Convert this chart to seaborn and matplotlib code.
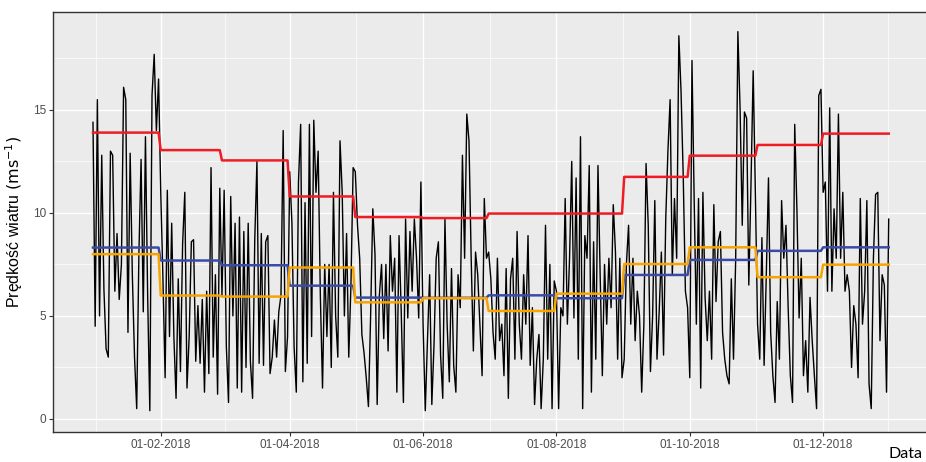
import numpy as np
import pandas as pd
import matplotlib
matplotlib.use("Agg")
import matplotlib.pyplot as plt
import matplotlib.dates as mdates
import seaborn as sns

# ---- data (daily wind speed 2018) ----
jan = [14.4, 4.5, 15.5, 5.0, 12.8, 6.3, 3.4, 3.0, 13.0, 12.8, 6.2, 9.0, 5.8, 7.5, 16.1, 15.5,
       4.2, 12.9, 7.0, 3.0, 0.5, 8.0, 12.6, 5.2, 13.7, 6.0, 0.4, 15.7, 17.7, 14.0, 16.5]
feb = [11.0, 6.8, 2.0, 11.1, 4.0, 9.5, 4.0, 1.0, 6.8, 2.3, 8.5, 11.0, 1.5, 4.0, 8.6, 8.7,
       2.8, 5.5, 2.7, 5.8, 1.3, 6.2, 2.2, 12.2, 3.0, 7.0, 1.2, 11.2]
mar = [6.0, 11.1, 3.5, 0.8, 10.8, 5.0, 9.5, 1.5, 9.8, 1.3, 9.1, 2.5, 9.5, 2.8, 1.0, 8.7,
       12.5, 2.7, 9.0, 2.6, 8.6, 8.9, 2.2, 3.0, 4.8, 3.0, 5.2, 6.0, 14.0, 2.3, 4.0]
apr = [12.0, 9.5, 3.5, 1.3, 11.5, 14.3, 1.8, 10.5, 2.7, 14.3, 4.0, 14.5, 11.0, 13.0, 6.0,
       1.5, 7.5, 4.0, 7.5, 2.5, 11.0, 5.0, 3.0, 13.5, 11.0, 5.0, 9.0, 3.0, 6.5, 12.2]
may = [12.0, 9.4, 7.8, 4.1, 3.2, 2.0, 0.6, 5.0, 10.2, 8.0, 0.7, 6.0, 7.5, 3.9, 7.5, 3.3,
       8.9, 6.2, 7.8, 1.3, 8.9, 5.2, 0.8, 9.7, 4.9, 9.1, 6.2, 9.7, 7.8, 4.9, 11.5]
jun = [4.6, 0.4, 3.8, 7.0, 0.7, 3.6, 7.8, 8.6, 3.1, 1.0, 9.7, 4.6, 1.8, 7.3, 2.6, 1.3,
       7.0, 5.4, 12.8, 7.8, 14.8, 13.5, 7.8, 3.3, 8.1, 7.0, 4.6, 2.1, 10.7, 7.8]
jul = [8.1, 6.8, 4.2, 2.9, 7.8, 3.8, 4.6, 2.1, 7.3, 1.0, 6.8, 7.8, 2.9, 9.1, 4.6, 2.9,
       7.0, 4.6, 8.9, 2.6, 5.4, 0.7, 2.9, 4.1, 0.5, 2.9, 9.4, 2.9, 7.5, 0.5, 6.7]
aug = [6.2, 0.5, 5.4, 5.0, 10.7, 4.6, 7.8, 12.5, 4.9, 11.7, 2.9, 13.7, 0.5, 8.9, 7.8, 12.3,
       1.3, 8.6, 2.9, 12.3, 7.0, 2.1, 7.5, 4.6, 7.8, 5.4, 10.4, 8.1, 2.9, 7.8, 2.0]
sep = [2.9, 7.5, 9.4, 4.6, 7.8, 3.8, 6.2, 5.0, 1.3, 4.6, 12.4, 9.4, 2.3, 5.0, 10.6, 2.9,
       5.2, 8.1, 3.1, 9.7, 13.0, 15.5, 7.0, 10.7, 7.8, 18.6, 15.9, 11.8, 6.2, 5.4]
oct_ = [2.0, 17.4, 10.7, 4.6, 10.7, 1.5, 11.0, 5.9, 3.8, 6.2, 2.9, 10.4, 5.7, 8.6, 9.1, 4.2,
        2.9, 2.1, 1.7, 6.8, 2.9, 7.8, 18.8, 15.1, 9.4, 14.9, 14.6, 6.5, 11.4, 16.9, 11.0]
nov = [4.6, 2.9, 8.8, 2.6, 7.0, 11.7, 4.2, 2.1, 0.8, 5.7, 2.9, 10.6, 7.8, 9.4, 5.4, 2.1,
       0.8, 14.3, 10.2, 4.9, 7.8, 2.1, 3.8, 1.3, 5.9, 3.8, 2.1, 0.5, 15.7, 16.0]
dec = [11.0, 11.5, 6.2, 15.1, 6.2, 10.2, 7.8, 14.8, 7.8, 11.0, 6.2, 7.0, 6.2, 2.5, 5.5, 4.6,
       2.0, 10.7, 4.6, 6.2, 10.6, 1.7, 0.5, 7.8, 10.9, 11.0, 3.8, 7.0, 6.5, 1.3, 9.7]

month_values = [jan, feb, mar, apr, may, jun, jul, aug, sep, oct_, nov, dec]

# monthly statistics (step lines)
red_monthly = [13.9, 13.05, 12.55, 10.8, 9.8, 9.75, 9.97, 9.97, 11.75, 12.78, 13.3, 13.85]
blue_monthly = [8.32, 7.69, 7.46, 6.47, 5.89, 5.88, 6.0, 5.86, 6.99, 7.72, 8.16, 8.33]
orange_monthly = [8.0, 5.99, 5.94, 7.35, 5.66, 5.86, 5.24, 6.08, 7.52, 8.33, 6.88, 7.49]

tick_dates = ["2018-02-01", "2018-04-01", "2018-06-01", "2018-08-01", "2018-10-01", "2018-12-01"]
y_ticks = [0, 5, 10, 15]

# ---- build table ----
rows = []
for m, vals in enumerate(month_values):
    dates = pd.date_range(pd.Timestamp(2018, m + 1, 1), periods=len(vals), freq="D")
    for d, v in zip(dates, vals):
        rows.append({"Data": d, "v": v, "red": red_monthly[m],
                     "blue": blue_monthly[m], "orange": orange_monthly[m]})
df = pd.DataFrame(rows)

# ---- figure ----
W, H = 926, 462
fig = plt.figure(figsize=(W / 100, H / 100), dpi=100)
left_px, right_px, top_px, bot_px = 53.2, 928.5, 12.3, 431.7
ax = fig.add_axes([left_px / W, 1 - bot_px / H, (right_px - left_px) / W, (bot_px - top_px) / H])
ax.set_facecolor("#EBEBEB")

sns.lineplot(data=df, x="Data", y="v", ax=ax, color="black", linewidth=1.0, estimator=None)
sns.lineplot(data=df, x="Data", y="red", ax=ax, color="#EE1C24", linewidth=1.8, estimator=None)
sns.lineplot(data=df, x="Data", y="blue", ax=ax, color="#3A4BA5", linewidth=1.8, estimator=None)
sns.lineplot(data=df, x="Data", y="orange", ax=ax, color="#F7A400", linewidth=1.8, estimator=None)

start = df["Data"].min()
end = df["Data"].max()
span = (end - start)
pad = span * 0.05
ax.set_xlim(start - pad, end + pad)
ax.set_ylim(-0.62, 19.74)

major = [pd.Timestamp(t) for t in tick_dates]
step = major[1] - major[0]
minor = [major[0] - step / 2] + [a + (b - a) / 2 for a, b in zip(major[:-1], major[1:])] + [major[-1] + step / 2]
ax.set_xticks(major)
ax.set_xticks(minor, minor=True)
ax.xaxis.set_major_formatter(mdates.DateFormatter("%d-%m-%Y"))
ax.set_yticks(y_ticks)
ax.set_yticks([2.5, 7.5, 12.5, 17.5], minor=True)

ax.grid(which="major", color="white", linewidth=1.0)
ax.grid(which="minor", color="white", linewidth=0.5)
ax.set_axisbelow(True)

for s in ax.spines.values():
    s.set_color("#333333")
    s.set_linewidth(1.0)

ax.tick_params(which="major", length=3, width=0.8, color="#333333", labelcolor="#4D4D4D",
               labelsize=8.5, pad=2)
ax.tick_params(which="minor", length=0)
for lab in ax.get_xticklabels() + ax.get_yticklabels():
    lab.set_fontfamily("Liberation Sans")

ax.set_xlabel("")
ax.set_ylabel(r"Prędkość wiatru $\left(\mathrm{ms}^{-1}\right)$", fontsize=11.5,
              family="Liberation Sans", labelpad=6)

fig.text(922 / W, 1 - 454 / H, "Data", ha="right", va="center", fontsize=11.5, family="Lato")

fig.savefig("out.png", dpi=100)
